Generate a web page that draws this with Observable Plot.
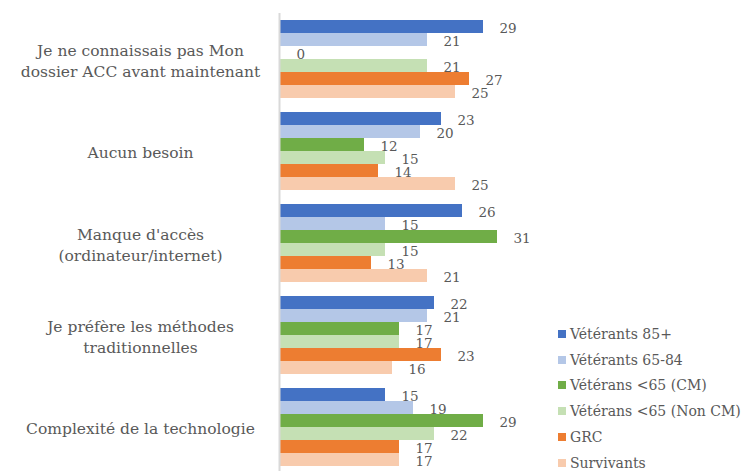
<!DOCTYPE html>
<html>
<head>
<meta charset="utf-8">
<script src="https://cdn.jsdelivr.net/npm/d3@7"></script>
<script src="https://cdn.jsdelivr.net/npm/@observablehq/plot@0.6"></script>
<style>
  body { margin: 0; background: #fff; }
  #wrap { position: relative; width: 746px; height: 471px; font-family: "DejaVu Serif", serif; overflow: hidden; }
  #legend { position: absolute; left: 558px; top: 321px; color: #595959; font-size: 14px; }
  #legend .item { height: 25.8px; display: flex; align-items: center; white-space: nowrap; }
  #legend .sw { width: 8px; height: 8px; margin-right: 4px; display: inline-block; }
</style>
</head>
<body>
<div id="wrap"><div id="chart"></div><div id="legend"></div></div>
<script>
const categories = [
  "Je ne connaissais pas Mon\ndossier ACC avant maintenant",
  "Aucun besoin",
  "Manque d'accès\n(ordinateur/internet)",
  "Je préfère les méthodes\ntraditionnelles",
  "Complexité de la technologie"
];
const series = [
  "Vétérants 85+",
  "Vétérants 65-84",
  "Vétérans <65 (CM)",
  "Vétérans <65 (Non CM)",
  "GRC",
  "Survivants"
];
const colors = ["#4472C4", "#B4C7E7", "#70AD47", "#C5E0B4", "#ED7D31", "#F8CBAD"];
const vet85 = [29, 23, 26, 22, 15];
const vet6584 = [21, 20, 15, 21, 19];
const vetCM = [0, 12, 31, 17, 29];
const vetNonCM = [21, 15, 15, 17, 22];
const grc = [27, 14, 13, 23, 17];
const survivants = [25, 25, 21, 16, 17];
const seriesValues = [vet85, vet6584, vetCM, vetNonCM, grc, survivants];

const rows = [];
categories.forEach((c, i) => {
  series.forEach((s, j) => rows.push({category: c, series: s, value: seriesValues[j][i]}));
});

const chart = Plot.plot({
  width: 746,
  height: 471,
  marginLeft: 280,
  marginRight: 46,
  marginTop: 12,
  marginBottom: -2,
  style: {fontFamily: "'DejaVu Serif', serif", background: "white", overflow: "hidden"},
  x: {domain: [0, 60], axis: null},
  fy: {domain: categories, padding: 0, axis: null},
  y: {domain: series, paddingInner: 0, paddingOuter: 0.29, axis: null},
  color: {domain: series, range: colors},
  marks: [
    Plot.barX(rows, {x: "value", y: "series", fy: "category", fill: "series"}),
    Plot.ruleX([0], {stroke: "#d9d9d9", strokeWidth: 2, dx: -1}),
    Plot.text(rows, {x: "value", y: "series", fy: "category", text: d => String(d.value),
      textAnchor: "start", dx: 16, dy: 2, fill: "#595959", fontSize: 13.5}),
    Plot.text(categories, {fy: d => d, text: d => d, frameAnchor: "left", dx: -140,
      textAnchor: "middle", fontSize: 15.5, lineHeight: 1.4, fill: "#595959"})
  ]
});
document.getElementById("chart").appendChild(chart);

const legend = document.getElementById("legend");
series.forEach((s, i) => {
  const item = document.createElement("div");
  item.className = "item";
  item.innerHTML = `<span class="sw" style="background:${colors[i]}"></span><span></span>`;
  item.lastChild.textContent = s;
  legend.appendChild(item);
});
</script>
</body>
</html>
